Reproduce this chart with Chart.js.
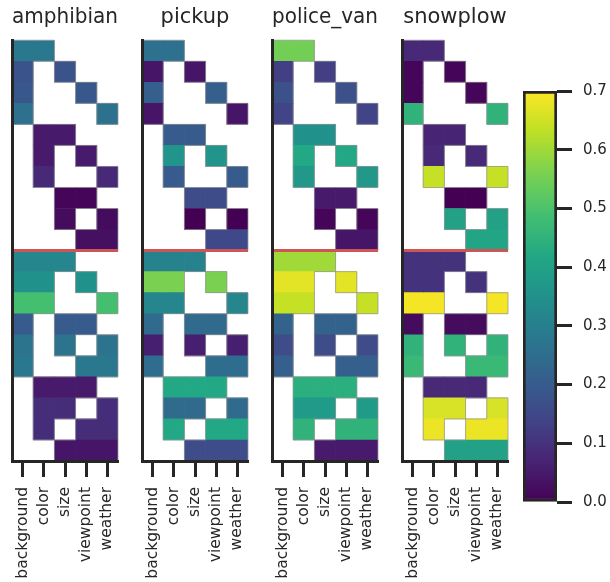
<!DOCTYPE html>
<html>
<head>
<meta charset="utf-8">
<script src="https://cdn.jsdelivr.net/npm/chart.js@4.4.0/dist/chart.umd.min.js"></script>
<style>
  html, body { margin: 0; padding: 0; background: #fff; }
  #wrap { position: relative; width: 610px; height: 582px; overflow: hidden; }
  .panel { position: absolute; top: 0; height: 582px; }
</style>
</head>
<body>
<div id="wrap">
  <div class="panel" style="left:0px;width:130px"><canvas id="c0"></canvas></div>
  <div class="panel" style="left:130px;width:130px"><canvas id="c1"></canvas></div>
  <div class="panel" style="left:260px;width:130px"><canvas id="c2"></canvas></div>
  <div class="panel" style="left:390px;width:130px"><canvas id="c3"></canvas></div>
  <div class="panel" style="left:500px;width:110px"><canvas id="cbar"></canvas></div>
</div>
<script>
var categories = ['background', 'color', 'size', 'viewpoint', 'weather'];
var models = ['amphibian', 'pickup', 'police_van', 'snowplow'];

// rows: the 10 pairs on top, the 10 triples below the red line
var rowCombos = [
    [0, 1], [0, 2], [0, 3], [0, 4], [1, 2], [1, 3], [1, 4], [2, 3], [2, 4], [3, 4],
    [0, 1, 2], [0, 1, 3], [0, 1, 4], [0, 2, 3], [0, 2, 4], [0, 3, 4], [1, 2, 3], [1, 2, 4], [1, 3, 4], [2, 3, 4]
];
var pairRows = 10;

var amphibian = [0.28, 0.18, 0.19, 0.26, 0.05, 0.05, 0.08, 0.01, 0.02, 0.03,
                 0.32, 0.35, 0.49, 0.20, 0.27, 0.28, 0.05, 0.09, 0.09, 0.04];
var pickup    = [0.26, 0.04, 0.21, 0.04, 0.20, 0.36, 0.20, 0.16, 0.00, 0.15,
                 0.31, 0.56, 0.32, 0.24, 0.06, 0.25, 0.42, 0.24, 0.42, 0.16];
var policeVan = [0.55, 0.13, 0.17, 0.14, 0.35, 0.42, 0.37, 0.05, 0.01, 0.04,
                 0.60, 0.67, 0.64, 0.22, 0.16, 0.21, 0.44, 0.38, 0.45, 0.05];
var snowplow  = [0.08, 0.01, 0.01, 0.45, 0.07, 0.08, 0.64, 0.00, 0.40, 0.41,
                 0.10, 0.10, 0.69, 0.02, 0.45, 0.47, 0.08, 0.66, 0.68, 0.40];
var panelValues = [amphibian, pickup, policeVan, snowplow];

var vmin = 0, vmax = 0.7;
var cbarTicks = [0, 0.1, 0.2, 0.3, 0.4, 0.5, 0.6, 0.7];

var ink = '#262626';
Chart.defaults.font.family = 'DejaVu Sans';
Chart.defaults.color = ink;

// viridis lookup
var viridisStops = [[68,1,84],[72,36,117],[65,68,135],[53,95,141],[42,120,142],[33,145,140],
                    [34,168,132],[68,191,112],[122,209,81],[189,223,38],[253,231,37]];
function viridis(t) {
    t = Math.max(0, Math.min(1, t));
    var p = t * (viridisStops.length - 1);
    var i = Math.min(Math.floor(p), viridisStops.length - 2);
    var f = p - i, a = viridisStops[i], b = viridisStops[i + 1];
    return 'rgb(' + Math.round(a[0] + (b[0] - a[0]) * f) + ',' +
        Math.round(a[1] + (b[1] - a[1]) * f) + ',' +
        Math.round(a[2] + (b[2] - a[2]) * f) + ')';
}

function isFilled(r, c) {
    return r >= 0 && r < rowCombos.length && c >= 0 && c < categories.length &&
        rowCombos[r].indexOf(c) >= 0;
}

// thin grey edge where a cell meets an empty one, plus the red split line
var cellEdges = {
    id: 'cellEdges',
    afterDatasetsDraw: function (chart) {
        var x = chart.scales.x, y = chart.scales.y, ctx = chart.ctx;
        ctx.save();
        ctx.strokeStyle = 'rgba(150,150,150,0.75)';
        ctx.lineWidth = 1;
        ctx.beginPath();
        rowCombos.forEach(function (combo, r) {
            combo.forEach(function (c) {
                var x0 = x.getPixelForValue(c), x1 = x.getPixelForValue(c + 1);
                var y0 = y.getPixelForValue(r - 0.5), y1 = y.getPixelForValue(r + 0.5);
                if (!isFilled(r - 1, c)) { ctx.moveTo(x0, y0); ctx.lineTo(x1, y0); }
                if (!isFilled(r + 1, c)) { ctx.moveTo(x0, y1); ctx.lineTo(x1, y1); }
                if (!isFilled(r, c - 1)) { ctx.moveTo(x0, y0); ctx.lineTo(x0, y1); }
                if (!isFilled(r, c + 1)) { ctx.moveTo(x1, y0); ctx.lineTo(x1, y1); }
            });
        });
        ctx.stroke();

        var ys = y.getPixelForValue(pairRows - 0.5);
        ctx.strokeStyle = 'rgb(205,85,85)';
        ctx.lineWidth = 3;
        ctx.beginPath();
        ctx.moveTo(x.getPixelForValue(0), ys);
        ctx.lineTo(x.getPixelForValue(categories.length), ys);
        ctx.stroke();
        ctx.restore();
    }
};

function makePanel(idx) {
    var vals = panelValues[idx];
    var colors = vals.map(function (v) { return viridis((v - vmin) / (vmax - vmin)); });
    var datasets = categories.map(function (cat, c) {
        return {
            label: cat,
            data: rowCombos.map(function (combo) { return combo.indexOf(c) >= 0 ? [c, c + 1] : null; }),
            backgroundColor: colors,
            borderWidth: 0,
            grouped: false,
            barPercentage: 1,
            categoryPercentage: 1
        };
    });

    new Chart(document.getElementById('c' + idx), {
        type: 'bar',
        data: {
            labels: rowCombos.map(function (r) { return r.join('-'); }),
            datasets: datasets
        },
        options: {
            indexAxis: 'y',
            responsive: true,
            maintainAspectRatio: false,
            animation: false,
            layout: { padding: { left: 12, right: 12, top: 0, bottom: 0 } },
            plugins: {
                legend: { display: false },
                tooltip: { enabled: false },
                title: {
                    display: true,
                    text: models[idx],
                    color: ink,
                    font: { size: 21, weight: 'normal' },
                    padding: { top: 5, bottom: 10 }
                }
            },
            scales: {
                x: {
                    type: 'linear',
                    min: 0,
                    max: categories.length,
                    afterBuildTicks: function (s) {
                        s.ticks = categories.map(function (c, i) { return { value: i + 0.5 }; });
                    },
                    afterFit: function (s) {
                        s.height = 121;
                        s.paddingLeft = 0;
                        s.paddingRight = 0;
                    },
                    ticks: {
                        autoSkip: false,
                        minRotation: 90,
                        maxRotation: 90,
                        padding: 10,
                        color: ink,
                        font: { size: 15.5 },
                        callback: function (v) { return categories[Math.floor(v)]; }
                    },
                    grid: { drawOnChartArea: false, drawTicks: true, tickLength: 16, tickWidth: 3, tickColor: ink },
                    border: { display: true, width: 3, color: ink, z: 1 }
                },
                y: {
                    type: 'category',
                    afterFit: function (s) {
                        s.width = 0;
                        s.paddingTop = 0;
                        s.paddingBottom = 0;
                    },
                    ticks: { display: false },
                    grid: { display: false, drawTicks: false },
                    border: { display: true, width: 3, color: ink, z: 1 }
                }
            }
        },
        plugins: [cellEdges]
    });
}

for (var i = 0; i < models.length; i++) {
    makePanel(i);
}

// colorbar
new Chart(document.getElementById('cbar'), {
    type: 'bar',
    data: {
        labels: [''],
        datasets: [{
            data: [[vmin, vmax]],
            backgroundColor: function (context) {
                var a = context.chart.chartArea;
                if (!a) return '#000';
                var g = context.chart.ctx.createLinearGradient(0, a.bottom, 0, a.top);
                for (var k = 0; k <= 50; k++) g.addColorStop(k / 50, viridis(k / 50));
                return g;
            },
            borderColor: ink,
            borderWidth: 3,
            borderSkipped: false,
            barPercentage: 1,
            categoryPercentage: 1
        }]
    },
    options: {
        responsive: true,
        maintainAspectRatio: false,
        animation: false,
        layout: { padding: { left: 23, right: 0, top: 91, bottom: 80 } },
        plugins: { legend: { display: false }, tooltip: { enabled: false } },
        scales: {
            x: { display: false },
            y: {
                position: 'right',
                min: vmin,
                max: vmax,
                afterBuildTicks: function (s) {
                    s.ticks = cbarTicks.map(function (v) { return { value: v }; });
                },
                afterFit: function (s) {
                    s.width = 53;
                    s.paddingTop = 0;
                    s.paddingBottom = 0;
                },
                ticks: {
                    padding: 11,
                    color: ink,
                    font: { size: 15 },
                    callback: function (v) { return v.toFixed(1); }
                },
                grid: { drawOnChartArea: false, tickLength: 15, tickWidth: 3, tickColor: ink },
                border: { display: false }
            }
        }
    }
});
</script>
</body>
</html>
